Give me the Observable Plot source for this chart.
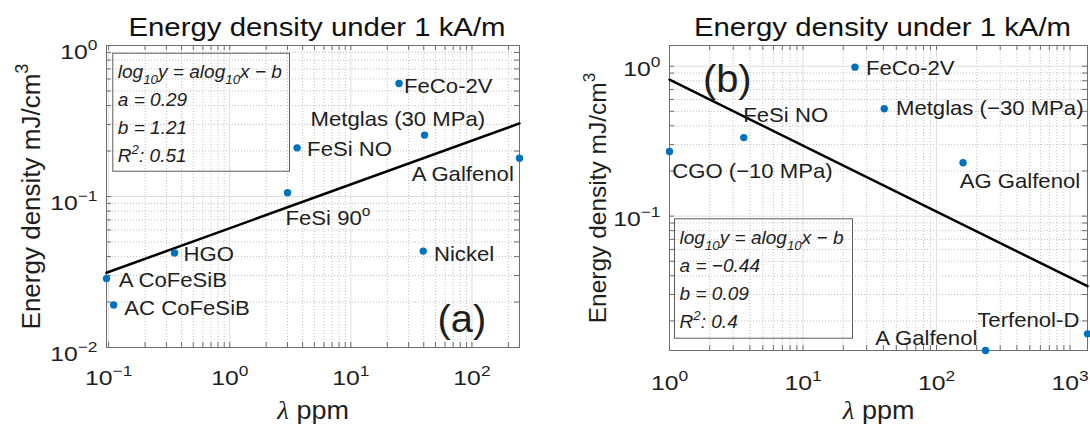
<!DOCTYPE html>
<html>
<head>
<meta charset="utf-8">
<script src="https://cdn.jsdelivr.net/npm/d3@7"></script>
<script src="https://cdn.jsdelivr.net/npm/@observablehq/plot@0.6"></script>
<style>
  html, body { margin: 0; padding: 0; background: #fff; }
  #charts { display: flex; width: 1090px; height: 427px; }
  #charts svg { display: block; }
</style>
</head>
<body>
<div id="charts"></div>
<script>
// Shared texts
const titleText = "Energy density under 1 kA/m";
const yLabelText = "Energy density mJ/cm^3";
const xLabelText = "λ ppm";

// Panel (a): energy density vs magnetostriction
const namesA = ["A CoFeSiB", "AC CoFeSiB", "HGO", "FeSi 90^o", "FeSi NO", "FeCo-2V", "Metglas (30 MPa)", "A Galfenol", "Nickel"];
const lambdaA = [0.096, 0.11, 0.35, 3.0, 3.6, 25, 40.6, 247, 39.6];
const energyA = [0.0286, 0.0191, 0.0423, 0.106, 0.21, 0.56, 0.255, 0.179, 0.0435];
const fitA = [0.29, 1.21, 0.51];          // a, b, R^2
const xTicksA = [0.1, 1, 10, 100];
const yTicksA = [0.01, 0.1, 1];
const yDomainA = [0.01, 1];

// Panel (b)
const namesB = ["CGO (−10 MPa)", "FeSi NO", "FeCo-2V", "Metglas (−30 MPa)", "AG Galfenol", "A Galfenol", "Terfenol-D"];
const lambdaB = [1, 3.6, 24.5, 40.6, 158, 233, 1352];
const energyB = [0.270, 0.334, 0.985, 0.520, 0.227, 0.0127, 0.0164];
const fitB = [-0.44, 0.09, 0.4];
const xTicksB = [1, 10, 100, 1000];
const yTicksB = [0.1, 1];
const yDomainB = [0.0127, 1.374];

// Label placement (pixel offsets from each point, baseline anchored)
const labelDxA = [12.3, 10.7, 9, -2, 10, 5, -114, -107.8, 10.7];
const labelDyA = [8.4, 10, 8, 32.7, 8.3, 9, -9.3, 22.4, 9.7];
const labelDxB = [2.7, -0.5, 11, 11.7, -3.4, -110.3, -110.2];
const labelDyB = [26.7, -15.6, 8.3, 6.7, 25, -5.7, -6.6];

const blue = "#0072BD";
const axisColor = "#6e6e6e";
const ink = "#1e1e1e";
const svgNS = "http://www.w3.org/2000/svg";

const num = v => String(v).replace("-", "−");
const expFmt = d => `10^{${num(Math.round(Math.log10(d)))}}`;

function logTicks([lo, hi]) {
  const out = [];
  for (let e = Math.floor(Math.log10(lo)); e <= Math.ceil(Math.log10(hi)); e++) {
    for (let k = 1; k <= 9; k++) {
      const v = k * 10 ** e;
      if (v >= lo * 0.9999 && v <= hi * 1.0001) out.push({v, major: k === 1});
    }
  }
  return out;
}

// Turn ^{..} / _{..} markup into raised / lowered tspans; λ gets a serif italic face.
function richText(t) {
  const s = t.textContent;
  if (!/[\^_λ]/.test(s)) return;
  const fs = parseFloat(getComputedStyle(t).fontSize);
  const parts = [];
  let buf = "", i = 0;
  while (i < s.length) {
    const c = s[i];
    if (c === "^" || c === "_") {
      if (buf) parts.push({text: buf, shift: 0}); buf = "";
      let content;
      if (s[i + 1] === "{") { const j = s.indexOf("}", i); content = s.slice(i + 2, j); i = j + 1; }
      else { content = s[i + 1]; i += 2; }
      parts.push({text: content, shift: c === "^" ? 1 : -1});
    } else if (c === "λ") {
      if (buf) parts.push({text: buf, shift: 0}); buf = "";
      parts.push({text: c, shift: 0, greek: true}); i++;
    } else { buf += c; i++; }
  }
  if (buf) parts.push({text: buf, shift: 0});
  t.textContent = "";
  let cur = 0;
  for (const p of parts) {
    const ts = document.createElementNS(svgNS, "tspan");
    const target = p.shift === 1 ? -0.44 * fs : p.shift === -1 ? 0.34 * fs : 0;
    if (target !== cur) ts.setAttribute("dy", target - cur);
    cur = target;
    if (p.shift) ts.setAttribute("font-size", 0.7 * fs);
    if (p.greek) { ts.setAttribute("font-family", "'Liberation Serif', 'DejaVu Serif', serif"); ts.setAttribute("font-style", "italic"); }
    ts.textContent = p.text;
    t.appendChild(ts);
  }
}

// Horizontal glyph widening around each label's anchor (horizontal texts only).
function widen(svg, factors) {
  svg.querySelectorAll("text").forEach(t => {
    for (let n = t; n && n !== svg; n = n.parentNode) {
      if ((n.getAttribute && n.getAttribute("transform") || "").includes("rotate")) return;
    }
    const fs = parseFloat(getComputedStyle(t).fontSize);
    const k = factors[fs];
    if (!k || k === 1) return;
    const bb = t.getBBox();
    const anchor = getComputedStyle(t).textAnchor;
    const ax = anchor === "middle" ? bb.x + bb.width / 2 : anchor === "end" ? bb.x + bb.width : bb.x;
    const tr = t.getAttribute("transform") || "";
    t.setAttribute("transform", `${tr} translate(${ax},0) scale(${k},1) translate(${-ax},0)`);
  });
}

function drawPanel(p) {
  const W = 545, H = 427;
  const innerW = W - p.ml - p.mr, innerH = H - p.mt - p.mb;
  const xDomain = d3.extent(p.lambda);
  const data = p.names.map((name, i) => ({name, lambda: p.lambda[i], energy: p.energy[i]}));
  const tx = logTicks(xDomain), ty = logTicks(p.yDomain);
  const [a, b, r2] = p.fit;
  const fitLine = xDomain.map(x => ({x, y: 10 ** (a * Math.log10(x) - b)}));
  const boxLines = ["log_{10}y = alog_{10}x − b", `a = ${num(a)}`, `b = ${num(b)}`, `R^2: ${num(r2)}`];

  const svg = Plot.plot({
    width: W, height: H,
    marginLeft: p.ml, marginRight: p.mr, marginTop: p.mt, marginBottom: p.mb,
    style: {fontFamily: "'Liberation Sans', Arial, Helvetica, sans-serif", fontSize: "20.5px", color: ink, background: "#fff", overflow: "visible"},
    x: {type: "log", domain: xDomain},
    y: {type: "log", domain: p.yDomain},
    marks: [
      // grid: dotted minor, solid major
      Plot.ruleX(tx.filter(d => !d.major), {x: "v", stroke: "#c2c2c2", strokeDasharray: "1,2"}),
      Plot.ruleY(ty.filter(d => !d.major), {y: "v", stroke: "#c2c2c2", strokeDasharray: "1,2"}),
      Plot.ruleX(tx.filter(d => d.major), {x: "v", stroke: "#dfdfdf"}),
      Plot.ruleY(ty.filter(d => d.major), {y: "v", stroke: "#dfdfdf"}),
      // inward ticks on all four sides
      Plot.tickX(tx, {x: "v", insetTop: innerH - 5, stroke: axisColor}),
      Plot.tickX(tx, {x: "v", insetBottom: innerH - 5, stroke: axisColor}),
      Plot.tickY(ty, {y: "v", insetRight: innerW - 5, stroke: axisColor}),
      Plot.tickY(ty, {y: "v", insetLeft: innerW - 5, stroke: axisColor}),
      Plot.frame({stroke: axisColor}),
      Plot.axisX(p.xTicks, {tickSize: 0, tickPadding: p.xPad, tickFormat: expFmt, fontSize: 21, label: null}),
      Plot.axisY(p.yTicks, {tickSize: 0, tickPadding: 9, tickFormat: expFmt, fontSize: 21, dy: p.yDy, label: null}),
      // fit box
      Plot.frame({insetLeft: p.box[0], insetTop: p.box[1], insetRight: p.box[2], insetBottom: p.box[3], stroke: "#5c5c5c"}),
      ...boxLines.map((line, i) => Plot.text([line], {
        text: d => d, frameAnchor: "top-left", textAnchor: "start", lineAnchor: "bottom",
        dx: p.box[0] + 5, dy: p.box[1] + 25 + 28 * i, fontSize: 18.5, fontStyle: "italic", fill: ink
      })),
      // regression line and data
      Plot.line(fitLine, {x: "x", y: "y", stroke: "#000", strokeWidth: 2.5}),
      Plot.dot(data, {x: "lambda", y: "energy", r: 3.7, fill: blue}),
      ...data.map((d, i) => Plot.text([d], {
        x: "lambda", y: "energy", text: "name", textAnchor: "start", lineAnchor: "bottom",
        dx: p.dx[i], dy: p.dy[i], fill: ink
      })),
      // panel letter, titles, axis labels
      Plot.text([p.letter], {text: d => d, frameAnchor: p.letterAnchor, textAnchor: p.letterText, lineAnchor: "bottom",
        dx: p.letterDx, dy: p.letterDy, fontSize: 38, fill: ink}),
      Plot.text([titleText], {text: d => d, frameAnchor: "top", textAnchor: "middle", lineAnchor: "bottom", dx: 4, dy: -9.5, fontSize: 26, fill: "#111"}),
      Plot.text([xLabelText], {text: d => d, frameAnchor: "bottom", textAnchor: "middle", lineAnchor: "bottom", dy: p.xLabelDy, fontSize: 25, fill: ink}),
      Plot.text([yLabelText], {text: d => d, frameAnchor: "left", textAnchor: "middle", rotate: -90, lineAnchor: "bottom", dx: p.yLabelDx, fontSize: p.yLabelSize, fill: ink})
    ]
  });
  document.getElementById("charts").appendChild(svg);
  svg.querySelectorAll("text").forEach(richText);
  widen(svg, {26: 1.13, 21: 1.18, 20.5: 1.08, 25: 1.08, 38: 1.05, 18.5: 1.03});
}

drawPanel({
  names: namesA, lambda: lambdaA, energy: energyA, fit: fitA,
  xTicks: xTicksA, yTicks: yTicksA, yDomain: yDomainA,
  dx: labelDxA, dy: labelDyA,
  ml: 106, mr: 26, mt: 45, mb: 80, xPad: 23, yDy: 7,
  box: [6.3, 7.7, 230, 176.3],
  letter: "(a)", letterAnchor: "bottom-right", letterText: "end", letterDx: -33.2, letterDy: -15.3,
  xLabelDy: 71, yLabelDx: -66.7, yLabelSize: 26
});
drawPanel({
  names: namesB, lambda: lambdaB, energy: energyB, fit: fitB,
  xTicks: xTicksB, yTicks: yTicksB, yDomain: yDomainB,
  dx: labelDxB, dy: labelDyB,
  ml: 124, mr: 3, mt: 45, mb: 77, xPad: 24.4, yDy: 3,
  box: [5, 173.3, 235, 12.3],
  letter: "(b)", letterAnchor: "top-left", letterText: "start", letterDx: 33.4, letterDy: 46,
  xLabelDy: 68, yLabelDx: -64, yLabelSize: 24.5
});
</script>
</body>
</html>
